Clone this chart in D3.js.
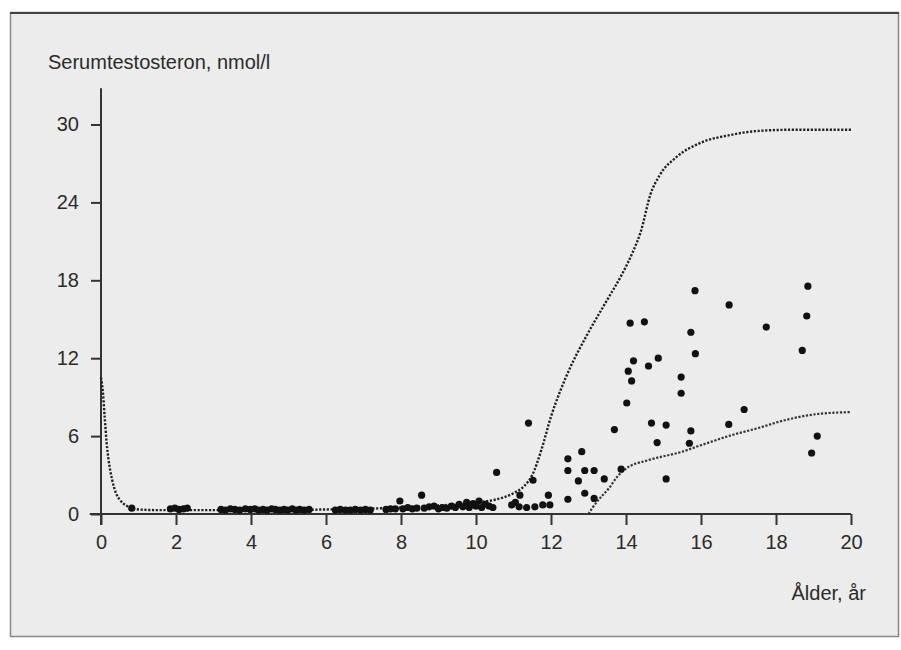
<!DOCTYPE html>
<html>
<head>
<meta charset="utf-8">
<script src="https://cdn.jsdelivr.net/npm/d3@7"></script>
<style>
  body { margin: 0; background: #fff; }
  svg text { font-family: "Liberation Sans", Arial, Helvetica, sans-serif; fill: #2b2b2b; }
</style>
</head>
<body>
<div id="chart"></div>
<script>
// axis ticks
const xTicks = [0, 2, 4, 6, 8, 10, 12, 14, 16, 18, 20];
const yTicks = [0, 6, 12, 18, 24, 30];

// upper reference curve [age, nmol/l]
const upperCurve = [
  [0, 10.5], [0.05, 9.4], [0.1, 7.4], [0.15, 5.5], [0.2, 4.2], [0.3, 2.6], [0.4, 1.6],
  [0.5, 1.1], [0.6, 0.8], [0.7, 0.6], [0.8, 0.45], [1, 0.35], [1.5, 0.3], [2, 0.3],
  [3, 0.3], [4, 0.3], [5, 0.3], [6, 0.35], [7, 0.4], [8, 0.5], [9, 0.65], [10, 0.9],
  [10.5, 1.1], [11, 1.6], [11.3, 2.2], [11.5, 3.0], [11.75, 5.0], [12, 7.5], [12.25, 9.5],
  [12.5, 11.2], [13, 14.0], [13.5, 16.5], [13.9, 18.5], [14.2, 20.3], [14.4, 21.8],
  [14.65, 24.6], [14.9, 26.1], [15.35, 27.5], [16, 28.6], [16.8, 29.2], [17.5, 29.5],
  [18.5, 29.6], [20, 29.6]
];

// lower reference curve
const lowerCurve = [
  [13.0, 0], [13.1, 0.45], [13.3, 1.2], [13.55, 2.0], [13.76, 2.85], [14.0, 3.5],
  [14.6, 4.15], [15.5, 4.8], [16.0, 5.3], [16.85, 6.1], [17.5, 6.6], [18.2, 7.2],
  [19.1, 7.7], [20, 7.85]
];

// measured values, children
const childPoints = [
  [0.82, 0.45], [1.85, 0.4], [1.97, 0.45], [2.08, 0.35], [2.2, 0.4], [2.3, 0.45],
  [3.2, 0.35], [3.32, 0.3], [3.45, 0.4], [3.57, 0.35], [3.7, 0.3], [3.85, 0.4], [3.98, 0.35],
  [4.1, 0.4], [4.2, 0.3], [4.32, 0.35], [4.43, 0.3], [4.55, 0.4], [4.65, 0.35], [4.77, 0.3],
  [4.88, 0.35], [4.98, 0.3], [5.1, 0.4], [5.2, 0.3], [5.3, 0.35], [5.42, 0.3], [5.55, 0.35],
  [6.25, 0.3], [6.38, 0.35], [6.52, 0.3], [6.65, 0.3], [6.78, 0.35], [6.92, 0.3], [7.05, 0.35],
  [7.18, 0.3], [7.6, 0.35], [7.72, 0.4], [7.85, 0.4], [7.97, 1.0], [8.05, 0.4], [8.18, 0.5],
  [8.3, 0.4], [8.42, 0.45], [8.55, 1.45], [8.62, 0.45], [8.75, 0.55], [8.88, 0.6], [9.0, 0.4],
  [9.1, 0.5], [9.22, 0.45], [9.35, 0.6], [9.45, 0.5], [9.55, 0.75], [9.65, 0.55], [9.75, 0.9],
  [9.82, 0.5], [9.92, 0.8], [10.0, 0.6], [10.08, 1.0], [10.15, 0.5], [10.25, 0.75], [10.35, 0.6],
  [10.45, 0.5], [10.55, 3.2], [10.95, 0.7], [11.05, 0.9], [11.15, 0.55], [11.17, 1.45],
  [11.35, 0.5], [11.4, 7.0], [11.52, 2.6], [11.57, 0.55], [11.78, 0.7], [11.93, 1.45], [11.97, 0.7]
];

// measured values, puberty
const pubertyPoints = [
  [12.45, 4.25], [12.45, 3.35], [12.45, 1.13], [12.73, 2.55], [12.82, 4.8], [12.9, 3.35],
  [12.9, 1.6], [13.15, 3.35], [13.15, 1.2], [13.42, 2.7], [13.69, 6.5], [13.87, 3.45],
  [14.02, 8.55], [14.06, 11.0], [14.15, 10.25], [14.2, 11.8], [14.11, 14.7], [14.49, 14.8],
  [14.6, 11.4], [14.86, 12.0], [14.68, 7.0], [15.07, 6.85], [14.83, 5.5], [15.07, 2.7],
  [15.47, 10.55], [15.47, 9.3], [15.73, 14.0], [15.85, 12.35], [15.84, 17.2], [15.73, 6.4],
  [15.69, 5.45], [16.75, 16.1], [16.74, 6.9], [17.15, 8.05], [17.74, 14.4], [18.85, 17.55],
  [18.82, 15.25], [18.7, 12.6], [19.1, 6.0], [18.95, 4.7]
];

const width = 901;
const height = 650;

const svg = d3.select('#chart').append('svg')
  .attr('width', width)
  .attr('height', height);

// paper frame
svg.append('rect')
  .attr('x', 10.5).attr('y', 12.5)
  .attr('width', 888).attr('height', 624)
  .attr('fill', '#ececec')
  .attr('stroke', '#888')
  .attr('stroke-width', 1.5);
svg.append('line')
  .attr('x1', 10).attr('x2', 899)
  .attr('y1', 13).attr('y2', 13)
  .attr('stroke', '#444').attr('stroke-width', 2);

const x = d3.scaleLinear().domain([0, 20]).range([101, 851]);
const y = d3.scaleLinear().domain([0, 30]).range([514, 124.5]);

// axes
const xAxis = svg.append('g')
  .attr('transform', 'translate(0,' + y(0) + ')')
  .call(d3.axisBottom(x).tickValues(xTicks).tickSize(11).tickPadding(10).tickSizeOuter(0));
const yAxis = svg.append('g')
  .attr('transform', 'translate(' + x(0) + ',0)')
  .call(d3.axisLeft(y).tickValues(yTicks).tickSize(10).tickPadding(12).tickSizeOuter(0));

[xAxis, yAxis].forEach(g => {
  g.select('.domain').remove();
  g.selectAll('line').attr('stroke', '#333').attr('stroke-width', 2);
  g.selectAll('text').style('font-size', '20px').attr('fill', '#2b2b2b');
});

svg.append('line')
  .attr('x1', x(-0.3)).attr('x2', x(20))
  .attr('y1', y(0)).attr('y2', y(0))
  .attr('stroke', '#333').attr('stroke-width', 2);
svg.append('line')
  .attr('x1', x(0)).attr('x2', x(0))
  .attr('y1', y(-0.85)).attr('y2', y(32.8))
  .attr('stroke', '#333').attr('stroke-width', 2);

// titles
svg.append('text')
  .attr('x', 48).attr('y', 69)
  .style('font-size', '20px')
  .text('Serumtestosteron, nmol/l');

svg.append('text')
  .attr('x', 866).attr('y', 600)
  .style('text-anchor', 'end')
  .style('font-size', '20px')
  .text('Ålder, år');

// dotted reference curves
const line = d3.line()
  .x(d => x(d[0]))
  .y(d => y(d[1]))
  .curve(d3.curveMonotoneX);

svg.append('path')
  .datum(upperCurve)
  .attr('d', line)
  .attr('fill', 'none')
  .attr('stroke', '#222')
  .attr('stroke-width', 2.4)
  .attr('stroke-dasharray', '2.2 1.6');

svg.append('path')
  .datum(lowerCurve)
  .attr('d', line)
  .attr('fill', 'none')
  .attr('stroke', '#333')
  .attr('stroke-width', 2.2)
  .attr('stroke-dasharray', '2.2 1.6');

// points
svg.append('g')
  .selectAll('circle')
  .data(childPoints.concat(pubertyPoints))
  .join('circle')
  .attr('cx', d => x(d[0]))
  .attr('cy', d => y(d[1]))
  .attr('r', 3.6)
  .attr('fill', '#111');
</script>
</body>
</html>
